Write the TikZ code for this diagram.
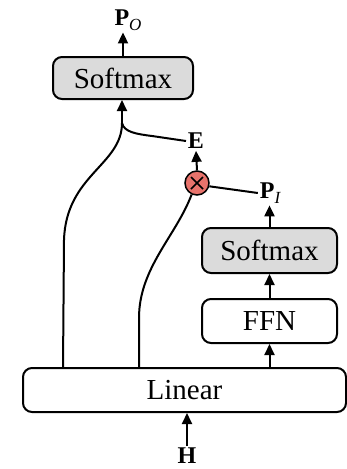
\documentclass[tikz,border=0pt]{standalone}
\usepackage{fontspec}
\setmainfont{Liberation Serif}
\usetikzlibrary{arrows.meta}
\definecolor{boxgray}{gray}{0.86}
\definecolor{mulred}{HTML}{E8736C}

\newcommand{\subtxt}[1]{\raisebox{-5pt}{\fontsize{17}{17}\selectfont\mdseries\itshape #1}}

\begin{document}
\begin{tikzpicture}[x=1pt,y=-1pt,line width=2pt,
  block/.style={draw,rounded corners=9pt,line width=2pt,inner sep=0pt,
                font=\fontsize{29}{32}\selectfont},
  graybox/.style={block,fill=boxgray},
  lbl/.style={font=\fontsize{24}{26}\selectfont\bfseries,inner sep=1pt},
  arr/.style={-{Triangle[length=11pt,width=10pt]}},
  mulnode/.style={circle,draw,fill=mulred,line width=1.5pt,minimum size=24pt,inner sep=0pt}]
\useasboundingbox (0,0) rectangle (347,469);

% boxes
\node[graybox,minimum width=140pt,minimum height=42pt] (sm1) at (123,78) {Softmax};
\node[graybox,minimum width=135pt,minimum height=45pt] (sm2) at (269.5,250.5) {Softmax};
\node[block,minimum width=135pt,minimum height=44pt] (ffn) at (269.5,321) {FFN};
\node[block,minimum width=323pt,minimum height=44pt] (lin) at (184.5,390) {Linear};

% labels
\node[lbl] (pO) at (128,20) {P\subtxt{O}};
\node[lbl] (E) at (196,141) {E};
\node[lbl] (pI) at (270,193) {P\subtxt{I}};
\node[lbl] (H) at (187,456) {H};

% element-wise product
\node[mulnode] (mul) at (197,183) {};
\draw[line width=1.5pt] ([shift={(-6pt,-6pt)}]mul.center) -- ([shift={(6pt,6pt)}]mul.center)
                        ([shift={(-6pt,6pt)}]mul.center) -- ([shift={(6pt,-6pt)}]mul.center);

% junction and branch points
\coordinate (J) at (122,123);
\coordinate (a1) at (63,368);
\coordinate (b1) at (139,368);

% connectors
\draw[arr] (sm1.north) -- (sm1.north |- pO.south);
\draw[arr] (J) -- (J |- sm1.south);
\draw (a1) -- (64,240) .. controls (66,175) and (122,165) .. (J);
\draw (J) .. controls (124,132) and (136,134) .. (152,136) -- (E.west);
\draw[arr] (mul.north) -- (E.south);
\draw (mul.-15) -- (pI.west);
\draw (b1) -- (139,318) .. controls (139,268) and (176,236) .. (mul.-115);
\draw[arr] (sm2.north) -- (sm2.north |- pI.south);
\draw[arr] (ffn.north) -- (sm2.south);
\draw[arr] (ffn.south |- lin.north) -- (ffn.south);
\draw[arr] (H.north) -- (H.north |- lin.south);
\end{tikzpicture}
\end{document}
